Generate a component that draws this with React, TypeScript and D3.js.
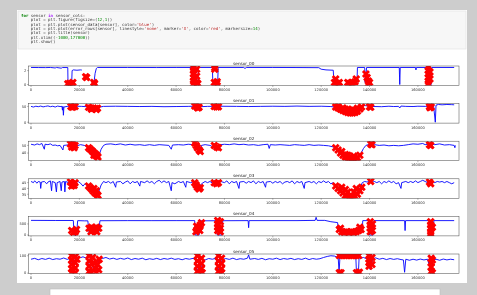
import React from "react";
import * as d3 from "d3";

type Pt = [number, number | null];

const CODE_LINES = [
  "for sensor in sensor_cols:",
  "    plot = plt.figure(figsize=(12,1))",
  "    plot = plt.plot(sensor_data[sensor], color='blue')",
  "    plot = plt.plot(error_rows[sensor], linestyle='none', marker='X', color='red', markersize=14)",
  "    plot = plt.title(sensor)",
  "    plt.xlim((-1000,177000))",
  "    plt.show()",
];

const X_TICKS = [0, 20000, 40000, 60000, 80000, 100000, 120000, 140000, 160000];
const X_LIMITS = [-1000, 177000];

const SENSORS = ["sensor_00", "sensor_01", "sensor_02", "sensor_03", "sensor_04", "sensor_05"];
const Y_DOMAINS = [[-0.14, 2.66], [-2.8, 58.8], [30, 55.5], [31.5, 48.3], [-40, 840], [-2, 110]];
const Y_TICKS = [[0, 2], [0, 50], [40, 50], [35, 40, 45], [0, 500], [0, 100]];

// sensor_00
const s00Line: Pt[] = [
  [0, 2.45], [3000, 2.44], [6000, 2.43], [8000, 2.45], [10000, 2.38], [10500, 2.45], [12500, 2.35], [13000, 2.44],
  [15200, 2.44], [15300, 0.05], [16800, 0.05], [17000, 2.0], [17500, 2.1], [19000, 2.05], [20500, 2.1], [21000, 2.08],
  [21200, null], [26000, 0.2], [26500, 1.6], [27000, 2.3], [27500, 2.45], [40000, 2.45], [52000, 2.44], [60000, 2.45],
  [66800, 2.45], [67000, 0], [69000, 0], [69200, 2.45], [75000, 2.45], [75200, 0.1], [77200, 0.1], [77400, 2.45],
  [88000, 2.45], [88500, 2.3], [89000, 2.45], [100000, 2.45], [110000, 2.44], [119000, 2.42], [120000, 2.2],
  [122000, 2.1], [125000, 2.05], [125300, 0.1], [127800, 0.1], [128000, null], [134800, 0.2], [135000, 2.45],
  [138000, 2.45], [138200, 0.3], [138800, 2.45], [152300, 2.45], [152500, 0], [152700, 2.45], [159000, 2.45],
  [159200, 2.1], [159400, 2.45], [164000, 2.45], [164200, 0], [165500, 0], [165700, 2.45], [175000, 2.45],
];
const s00Err: Pt[] = [
  [15200, 0.1], [16000, 0.2], [16800, 0.1], [17300, 0.3], [22600, 1.1], [23000, 1.0], [26000, 0.3], [26300, 0.1],
  [67200, 2.4], [67200, 2.0], [67200, 1.5], [67200, 1.0], [67200, 0.5], [67200, 0.1], [68500, 2.2], [68500, 1.2],
  [68500, 0.3], [69000, 0.1], [76000, 2.4], [76000, 2.2], [75800, 0.3], [76800, 0.2], [77000, 0.4],
  [125500, 0.3], [126500, 0.2], [127500, 0.3], [126000, 0.8], [131000, 0.3], [132000, 0.2], [133000, 0.3],
  [134000, 0.4], [134500, 0.8], [138500, 1.5], [139000, 1.0], [139500, 0.5], [139500, 0.1], [140000, 0.3],
  [164300, 2.5], [164300, 2.0], [164300, 1.5], [164300, 1.0], [164300, 0.5], [164300, 0.1], [165000, 1.8], [165000, 0.8],
];

// sensor_01
const s01Line: Pt[] = [
  [0, 50], [1000, 48], [2000, 50.5], [3000, 49], [4000, 51], [5000, 48.5], [6000, 50], [7000, 51.5], [8000, 49],
  [9000, 50.5], [10000, 48], [11000, 51], [12000, 49.5], [12800, 50], [13000, 38], [13200, 50], [13400, 22], [13600, 48],
  [15000, 50], [17000, 51], [19000, 50.5], [21000, 50], [23000, 49], [25000, 47], [27000, 46], [28500, 48], [30000, 50],
  [35000, 50.5], [40000, 50], [45000, 49.5], [50000, 50], [55000, 49], [60000, 49.5], [65000, 50], [67000, 50.5],
  [70000, 49], [73000, 50], [78000, 50.5], [85000, 50], [90000, 49.5], [95000, 50], [100000, 50.5], [105000, 50],
  [110000, 51], [115000, 50], [120000, 50.5], [124000, 49.5], [125500, 48], [130000, 35], [133000, 30], [135000, 38],
  [136500, 50], [137500, 54], [138500, 52], [140000, 50], [145000, 49], [148000, 50.5], [150000, 49.5], [152000, 50],
  [152500, 45], [153000, 51], [155000, 50], [158000, 49.5], [160000, 50.5], [163000, 50], [166500, 51], [167200, 0],
  [167500, 54], [168500, 56], [170000, 55], [172000, 56], [174000, 55.5], [175000, 55],
];
const s01Err: Pt[] = [
  [16500, 50], [17500, 49], [18200, 50], [17000, 47], [23800, 47], [24800, 45], [25800, 44], [26800, 43], [27500, 44],
  [25000, 41], [27000, 40], [67700, 51], [68500, 49], [69500, 47], [69000, 45], [75800, 50], [76800, 48], [77500, 49],
  [126000, 48], [127000, 45], [128000, 41], [129000, 37], [130000, 34], [131000, 31], [132000, 29], [133000, 29],
  [134000, 31], [135000, 35], [136000, 42], [136700, 48], [127000, 49], [129000, 45], [131000, 41], [133000, 40],
  [135000, 44], [130000, 41], [132000, 37], [134000, 38], [140000, 49], [140500, 47], [164800, 50], [165500, 48], [165000, 46],
];

// sensor_02
const s02Line: Pt[] = [
  [0, 51.5], [1500, 50.5], [2500, 52], [3500, 51], [4500, 52.5], [5500, 45], [5800, 51.5], [7000, 51], [8000, 52],
  [9000, 50], [10000, 50.5], [11000, 49.5], [12000, 50], [13200, 44], [13500, 50], [15000, 50.5], [16000, 51.5],
  [17500, 50], [19000, 49.5], [20500, 51], [22000, 50], [23500, 48], [24500, 45], [25500, 42], [26500, 38],
  [27500, 34.5], [28000, 36], [29000, 45], [30000, 50], [31000, 51.5], [33000, 52], [35000, 51], [37000, 52],
  [39000, 50.5], [41000, 51.5], [43000, 50.5], [45000, 51], [47000, 50], [49000, 51], [51000, 50], [53000, 51],
  [55000, 50.5], [57000, 50], [58000, 45], [58500, 50.5], [61000, 51], [63000, 50.5], [65000, 51.5], [67000, 51],
  [68000, 48], [69000, 44], [70000, 42], [70500, 50], [72000, 51], [74000, 50], [76000, 47], [77500, 48],
  [78500, 51], [80000, 51.5], [82000, 51], [84000, 52], [86000, 51], [88000, 51.5], [90000, 50.5], [92000, 51],
  [94000, 50], [96000, 51], [98000, 51.5], [98500, 46], [99000, 51], [101000, 50.5], [103000, 51], [105000, 50.5],
  [107000, 50], [109000, 51], [111000, 50.5], [113000, 50], [115000, 51], [117000, 50], [119000, 50.5], [121000, 50],
  [123000, 49.5], [125000, 48], [127000, 44], [129000, 39], [131000, 36], [133000, 33.5], [135000, 34], [136500, 40],
  [137500, 46], [138500, 50], [140000, 51.5], [142000, 51], [144000, 50], [146000, 50.5], [148000, 49.5],
  [150000, 50], [152000, 49.5], [154000, 50], [156000, 51], [158000, 52], [160000, 51.5], [162000, 52.5],
  [163000, 51], [165000, 52], [167000, 51], [169000, 52], [171000, 50.5], [173000, 51], [175000, 50], [175300, 47], [175500, 50],
];
const s02Err: Pt[] = [
  [16300, 52], [17300, 51], [18200, 50], [16800, 48], [17800, 47], [23800, 47], [24500, 45], [25200, 43], [25800, 41],
  [26500, 39], [27200, 37], [27700, 35], [26000, 37], [27000, 36], [67700, 53], [68300, 50], [68800, 47], [69500, 44],
  [70000, 42], [75800, 50], [76800, 48], [77500, 47], [126000, 47], [127000, 44], [128000, 40], [129000, 37],
  [130000, 35], [131000, 34], [132000, 33], [133000, 33], [134000, 33], [135000, 34], [136000, 37], [128500, 42],
  [131000, 37], [133500, 36], [130000, 38], [140500, 52], [141000, 51], [164800, 51], [165300, 50],
];

// sensor_03
const s03Line: Pt[] = [
  [0, 46], [1000, 45], [1500, 46.5], [2500, 44.5], [3000, 46], [3800, 45.5], [4000, 40], [4300, 45.5], [5500, 46],
  [6500, 44], [7000, 45.5], [8000, 46.5], [8500, 38], [8800, 46], [10000, 45], [10500, 37], [10800, 45], [12000, 46],
  [12500, 38], [12800, 45.5], [13800, 46], [14000, 37], [14300, 46], [15500, 45], [16500, 46], [18000, 45],
  [19500, 46], [20500, 44.5], [21500, 42], [22500, 44.5], [23500, 42], [24500, 40], [25500, 38], [26500, 36],
  [27500, 34], [28000, 37], [29000, 43], [30000, 46], [31000, 45], [32000, 46], [33000, 44.5], [34000, 46],
  [35000, 41], [35300, 45.5], [37000, 46], [38000, 44], [39000, 45.5], [40000, 46.5], [41000, 44], [42000, 46],
  [43000, 45], [44000, 46], [45000, 42], [45300, 46], [47000, 45], [48000, 46.5], [49000, 45], [50000, 46],
  [51000, 44], [52000, 46], [53000, 47], [54000, 45], [55000, 46.5], [56000, 45], [57000, 46], [58000, 38],
  [58300, 45], [59500, 44], [61000, 46], [62000, 45], [63000, 46], [64000, 41], [64300, 46], [66000, 45],
  [67500, 46], [68500, 42], [69500, 40], [70500, 44], [72000, 46], [73000, 45], [74000, 46], [75500, 44],
  [77000, 45], [78500, 46], [80000, 45], [81000, 46.5], [82000, 44], [83000, 46], [84000, 45], [85000, 46],
  [86000, 40], [86300, 45.5], [88000, 46], [89000, 44.5], [90000, 46], [91000, 45], [92000, 46.5], [93000, 44],
  [94000, 46], [95000, 45], [96000, 46], [97000, 41], [97300, 45.5], [99000, 46], [100000, 44.5], [101000, 46],
  [102000, 45], [103000, 46], [104000, 44], [105000, 45.5], [106000, 46], [107000, 45], [108000, 46.5],
  [109000, 44], [110000, 46], [111000, 45], [112000, 46], [113000, 40], [113300, 45], [115000, 46], [116000, 45],
  [117000, 46], [118000, 44], [119000, 46], [120000, 45], [121000, 46.5], [122000, 45], [123000, 46], [124000, 44],
  [125000, 45], [126000, 42], [128000, 38], [130000, 35], [132000, 34], [134000, 35], [136000, 40], [137000, 45],
  [138000, 46], [139000, 45.5], [140500, 47], [142000, 46], [143000, 45], [144000, 46], [145000, 44], [146000, 46],
  [147000, 45], [148000, 46.5], [149000, 45], [150000, 46], [151000, 44], [152000, 45], [153000, 40], [153300, 45],
  [155000, 46], [156000, 45], [157000, 46], [158000, 45], [159000, 46.5], [160000, 45], [161000, 46], [162000, 47],
  [163000, 46], [164000, 45], [166000, 46], [167000, 45], [168000, 46], [169000, 45.5], [170000, 46], [171000, 45],
  [172000, 46], [173000, 45], [174000, 44], [175000, 45],
];
const s03Err: Pt[] = [
  [16300, 45.5], [17200, 44], [18200, 45], [16800, 42], [17800, 42.5], [23800, 42], [24500, 40.5], [25200, 39],
  [25800, 37.5], [26500, 36], [27200, 35], [27700, 34], [26000, 40], [27000, 38], [67700, 45], [68300, 43],
  [68800, 41], [69500, 39.5], [70000, 40.5], [75800, 45], [76800, 44], [77500, 45], [126000, 42], [127000, 40],
  [128000, 38], [129000, 36], [130000, 34], [131000, 33], [132000, 32.5], [133000, 32.5], [134000, 33], [135000, 35],
  [136000, 38], [136800, 41], [128500, 41], [131000, 37], [133500, 37], [130000, 39], [134500, 40], [140500, 46],
  [164800, 45.5], [165300, 44],
];

// sensor_04
const s04Line: Pt[] = [
  [0, 660], [10000, 655], [17500, 655], [17800, 0], [18800, 0], [19300, 650], [22000, 640], [23500, 640],
  [24000, 100], [28000, 100], [28500, 645], [40000, 650], [50000, 648], [60000, 650], [67700, 650], [67900, 0],
  [69500, 0], [70000, 640], [76800, 645], [77000, 0], [79000, 0], [79300, 645], [89800, 650], [90000, 330],
  [90200, 650], [110000, 650], [117500, 660], [117900, 800], [118300, 660], [121500, 660], [124000, 600],
  [126800, 560], [127100, 190], [137000, 190], [137200, 650], [139800, 650], [140000, 0], [141500, 0],
  [141800, 650], [154500, 650], [154700, 200], [154900, 650], [165000, 650], [165200, 0], [166300, 0],
  [166600, 650], [175000, 650],
];
const s04Err: Pt[] = [
  [16800, 200], [17600, 120], [18300, 150], [18800, 250], [24000, 300], [24800, 150], [25600, 250], [26400, 200],
  [27200, 150], [28000, 300], [25000, 350], [27000, 350], [68200, 150], [68800, 250], [69400, 350], [70000, 450],
  [70500, 550], [68500, 400], [69800, 200], [77200, 650], [77200, 500], [77200, 350], [77200, 200], [78300, 600],
  [78300, 300], [78300, 150], [127500, 250], [128500, 150], [129500, 120], [130500, 150], [131500, 120],
  [132500, 150], [133500, 120], [134500, 150], [135500, 200], [136500, 250], [128000, 300], [136000, 350],
  [140300, 600], [140300, 450], [140300, 300], [140300, 150], [141200, 500], [141200, 200], [165300, 600],
  [165300, 450], [165300, 300], [165300, 150], [165300, 50], [166000, 350],
];

// sensor_05
const s05Line: Pt[] = [
  [0, 80], [1500, 85], [3000, 77], [4500, 84], [6000, 79], [7500, 86], [9000, 78], [10500, 83], [12000, 80],
  [13500, 87], [15000, 79], [16000, 84], [16500, 45], [17200, 78], [17800, 62], [18500, 90], [19500, 93],
  [20500, 89], [21500, 94], [22500, 88], [23300, 92], [23800, 60], [24300, 40], [25000, 75], [25700, 30],
  [26300, 70], [27000, 25], [27700, 60], [28300, 88], [29500, 84], [31000, 90], [32500, 81], [34000, 86],
  [35500, 79], [37000, 85], [38500, 80], [40000, 87], [41500, 78], [43000, 84], [44500, 80], [46000, 86],
  [47500, 77], [49000, 83], [50500, 79], [52000, 85], [53500, 78], [55000, 84], [56500, 80], [58000, 86],
  [59500, 79], [61000, 83], [62500, 77], [64000, 84], [65500, 80], [67000, 85], [68000, 82], [68500, 30],
  [69200, 10], [69800, 55], [70400, 20], [71000, 72], [72000, 76], [73500, 84], [75000, 80], [76500, 86],
  [77200, 40], [77800, 10], [78400, 45], [79000, 76], [80500, 84], [82000, 79], [83500, 86], [85000, 78],
  [86500, 83], [88000, 80], [89500, 86], [90000, 105], [90500, 80], [92500, 84], [94000, 79], [95500, 85],
  [97000, 77], [98500, 83], [100000, 80], [101500, 86], [103000, 78], [104500, 84], [106000, 80], [107500, 85],
  [109000, 78], [110500, 83], [112000, 79], [113500, 86], [115000, 78], [116500, 84], [118000, 80], [119500, 83],
  [121000, 90], [122500, 96], [124000, 100], [125500, 98], [126500, 92], [127000, 100], [127400, 2], [127800, 101],
  [134300, 101], [134600, 2], [135400, 2], [135700, 92], [136500, 86], [137500, 90], [138500, 84], [139300, 88],
  [139700, 40], [140300, 20], [140800, 50], [141300, 82], [142500, 88], [144000, 80], [145500, 85], [147000, 78],
  [148500, 84], [150000, 79], [151500, 83], [153000, 78], [154000, 76], [154500, 5], [155000, 80], [156500, 74],
  [158000, 80], [159500, 75], [161000, 81], [162500, 76], [164000, 80], [165200, 20], [165600, 3], [166000, 75],
  [167500, 80], [169000, 74], [170500, 81], [172000, 76], [173500, 80], [175000, 77],
];
const s05Err: Pt[] = [
  [16800, 100], [16800, 75], [16800, 50], [16800, 25], [16800, 3], [18300, 95], [18300, 60], [18300, 30], [18300, 3],
  [19000, 80], [24000, 100], [24000, 70], [24000, 40], [24000, 10], [25500, 90], [26000, 60], [26500, 30],
  [27000, 5], [27500, 50], [28000, 20], [28200, 80], [25000, 5], [68800, 100], [68800, 70], [68800, 40],
  [68800, 10], [70500, 85], [70500, 55], [70500, 25], [70800, 3], [77500, 100], [77500, 70], [77500, 40],
  [77500, 10], [78800, 85], [78800, 55], [78800, 25], [78800, 3], [127500, 101], [128500, 101], [129500, 101],
  [130500, 101], [131500, 101], [132500, 101], [133500, 101], [134500, 101], [135500, 101], [127500, 3],
  [128200, 3], [134600, 3], [135300, 3], [135800, 5], [139800, 100], [139800, 80], [139800, 60], [139800, 40],
  [141000, 90], [141000, 50], [165500, 85], [165500, 60], [165500, 35], [165500, 10], [166000, 75], [166000, 3],
];

const LINES = [s00Line, s01Line, s02Line, s03Line, s04Line, s05Line];
const ERRORS = [s00Err, s01Err, s02Err, s03Err, s04Err, s05Err];

const W = 477;
const H = 295;
const PLOT_LEFT = 28.6;
const PLOT_RIGHT = 459;
const FIRST_TOP = 66;
const STEP = 37.6;
const PLOT_H = 19.5;

const x = d3.scaleLinear().domain(X_LIMITS).range([PLOT_LEFT, PLOT_RIGHT]);
const xMark = d3.symbol().type(d3.symbolCross).size(40)();

function codeTokens(line: string) {
  // crude highlighter: keywords, strings, numbers
  const re = /('[^']*')|(\bfor\b|\bin\b)|(\b\d+\b|-\d+)/g;
  const out: { t: string; c: string; b?: boolean }[] = [];
  let last = 0;
  let m: RegExpExecArray | null;
  while ((m = re.exec(line))) {
    if (m.index > last) out.push({ t: line.slice(last, m.index), c: "#333" });
    if (m[1]) out.push({ t: m[1], c: "#ba2121" });
    else if (m[2]) out.push({ t: m[2], c: m[2] === "for" ? "#008000" : "#aa22ff", b: true });
    else out.push({ t: m[3], c: "#008800" });
    last = m.index + m[0].length;
  }
  if (last < line.length) out.push({ t: line.slice(last), c: "#333" });
  return out;
}

function Subplot({ i }: { i: number }) {
  const top = FIRST_TOP + i * STEP;
  const y = d3.scaleLinear().domain(Y_DOMAINS[i]).range([top + PLOT_H, top]);
  const line = d3
    .line<Pt>()
    .defined((d) => d[1] != null)
    .x((d) => x(d[0]))
    .y((d) => y(d[1] as number));
  return (
    <g>
      <defs>
        <clipPath id={`clip${i}`}>
          <rect x={PLOT_LEFT} y={top} width={PLOT_RIGHT - PLOT_LEFT} height={PLOT_H} />
        </clipPath>
      </defs>
      <rect x={PLOT_LEFT} y={top} width={PLOT_RIGHT - PLOT_LEFT} height={PLOT_H} fill="#fff" />
      <g clipPath={`url(#clip${i})`}>
        <path d={line(LINES[i]) || ""} fill="none" stroke="#0000ff" strokeWidth={0.9} strokeLinejoin="round" />
        {ERRORS[i].map((d, k) => (
          <path key={k} d={xMark} transform={`translate(${x(d[0])},${y(d[1] as number)}) rotate(45)`} fill="#ff0000" />
        ))}
      </g>
      <rect x={PLOT_LEFT} y={top} width={PLOT_RIGHT - PLOT_LEFT} height={PLOT_H} fill="none" stroke="#444" strokeWidth={0.5} />
      <text x={(PLOT_LEFT + PLOT_RIGHT) / 2} y={top - 1.5} fontSize={4.2} textAnchor="middle" fill="#222">
        {SENSORS[i]}
      </text>
      {X_TICKS.map((t) => (
        <g key={t}>
          <line x1={x(t)} x2={x(t)} y1={top + PLOT_H} y2={top + PLOT_H + 1.5} stroke="#444" strokeWidth={0.4} />
          <text x={x(t)} y={top + PLOT_H + 5.5} fontSize={3.6} textAnchor="middle" fill="#333">
            {t}
          </text>
        </g>
      ))}
      {Y_TICKS[i].map((t) => (
        <g key={t}>
          <line x1={PLOT_LEFT - 1.5} x2={PLOT_LEFT} y1={y(t)} y2={y(t)} stroke="#444" strokeWidth={0.4} />
          <text x={PLOT_LEFT - 2.2} y={y(t) + 1.3} fontSize={3.6} textAnchor="end" fill="#333">
            {t}
          </text>
        </g>
      ))}
    </g>
  );
}

export default function App() {
  return (
    <svg
      width={W}
      height={H}
      style={{ position: "absolute", left: 0, top: 0, fontFamily: "DejaVu Sans" }}
    >
      <defs>
        <filter id="soft" x="0" y="0" width="100%" height="100%">
          <feGaussianBlur stdDeviation="0.3" />
        </filter>
      </defs>
      <g filter="url(#soft)">
        <rect width={W} height={H} fill="#cdcdcd" />
        <rect x={17} y={10} width={450} height={273} fill="#ffffff" />
        <rect x={18} y={11} width={448} height={38} fill="#f7f7f7" stroke="#e2e2e2" strokeWidth={0.6} />
        {CODE_LINES.map((l, i) => (
          <text key={i} x={21} y={17 + i * 4.33} fontSize={4.1} fontFamily="DejaVu Sans Mono" xmlSpace="preserve">
            {codeTokens(l).map((tk, k) => (
              <tspan key={k} fill={tk.c} fontWeight={tk.b ? "bold" : "normal"}>
                {tk.t}
              </tspan>
            ))}
          </text>
        ))}
        {SENSORS.map((_, i) => (
          <Subplot key={i} i={i} />
        ))}
        <rect x={50} y={289} width={390} height={10} fill="#ffffff" stroke="#bdbdbd" strokeWidth={0.6} />
      </g>
    </svg>
  );
}
